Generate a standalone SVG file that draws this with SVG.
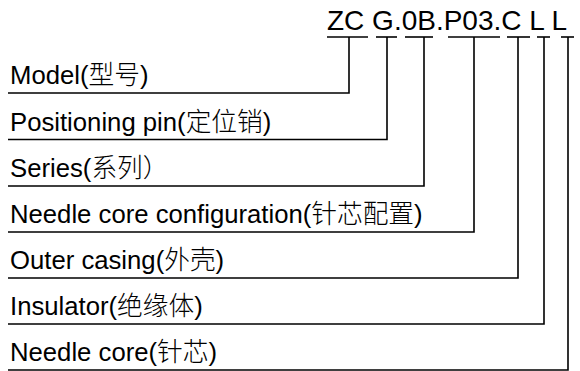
<svg xmlns="http://www.w3.org/2000/svg" width="580" height="371" viewBox="0 0 580 371">
<style>
.t{font-family:"Liberation Sans","Noto Sans CJK SC",Arial,sans-serif;fill:#000}
.lab{font-size:25.7px}
.code{font-size:28px}
.cjk{font-weight:300}
.ln{stroke:#000;stroke-width:1.6;fill:none}
</style>
<rect width="580" height="371" fill="#fff"/>
<g id="code">
<text class="t code" x="327" y="30">ZC G.0B.P03.C L L</text>
</g>
<g id="connectors">
<line class="ln" x1="327" y1="37" x2="368" y2="37"/>
<line class="ln" x1="376" y1="37" x2="397" y2="37"/>
<line class="ln" x1="405" y1="37" x2="433" y2="37"/>
<line class="ln" x1="448" y1="37" x2="500" y2="37"/>
<line class="ln" x1="507" y1="37" x2="530" y2="37"/>
<line class="ln" x1="537" y1="37" x2="550" y2="37"/>
<line class="ln" x1="561" y1="37" x2="574" y2="37"/>
<polyline class="ln" points="349,37 349,93 8,93"/>
<polyline class="ln" points="387,37 387,139.5 8,139.5"/>
<polyline class="ln" points="424,37 424,186 8,186"/>
<polyline class="ln" points="474,37 474,232 8,232"/>
<polyline class="ln" points="518,37 518,278 8,278"/>
<polyline class="ln" points="544,37 544,324 8,324"/>
<polyline class="ln" points="568,37 568,370 8,370"/>
</g>
<g id="n1"><text class="t lab" x="10" y="84">Model(<tspan class="cjk">型号</tspan>)</text></g>
<g id="n2"><text class="t lab" x="10" y="130.5">Positioning pin(<tspan class="cjk">定位销</tspan>)</text></g>
<g id="n3"><text class="t lab" x="10" y="177">Series(<tspan class="cjk">系列）</tspan></text></g>
<g id="n4"><text class="t lab" x="10" y="223">Needle core configuration(<tspan class="cjk">针芯配置</tspan>)</text></g>
<g id="n5"><text class="t lab" x="10" y="269">Outer casing(<tspan class="cjk">外壳</tspan>)</text></g>
<g id="n6"><text class="t lab" x="10" y="315">Insulator(<tspan class="cjk">绝缘体</tspan>)</text></g>
<g id="n7"><text class="t lab" x="10" y="361">Needle core(<tspan class="cjk">针芯</tspan>)</text></g>
</svg>
